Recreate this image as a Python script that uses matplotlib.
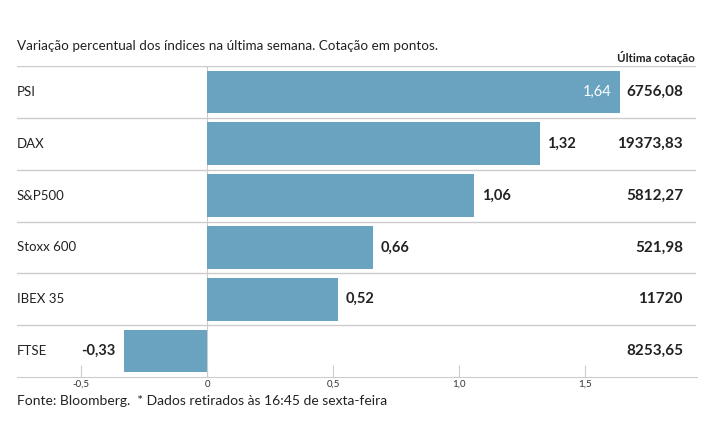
import matplotlib
matplotlib.use("Agg")
import matplotlib.pyplot as plt

# dados
indices = ["PSI", "DAX", "S&P500", "Stoxx 600", "IBEX 35", "FTSE"]
variacao = [1.64, 1.32, 1.06, 0.66, 0.52, -0.33]
cotacao = ["6756,08", "19373,83", "5812,27", "521,98", "11720", "8253,65"]
ticks = [-0.5, 0, 0.5, 1.0, 1.5]
tick_labels = ["-0,5", "0", "0,5", "1,0", "1,5"]

cor = "#6aa3bf"
cinza = "#cccccc"
texto = "#222222"
plt.rcParams["font.family"] = ["Lato", "DejaVu Sans"]

W, H = 715, 445
fig = plt.figure(figsize=(W / 100, H / 100), dpi=100)
ax = fig.add_axes([17 / W, (H - 377) / H, 680 / W, 311 / H])

y = list(range(len(indices)))
ax.barh(y, variacao, height=0.82, color=cor, zorder=2)
ax.set_xlim(-0.754, 1.944)
ax.set_ylim(5.5, -0.5)

# separadores
for i in range(len(indices)):
    ax.axhline(i - 0.5, xmax=0.997, color=cinza, lw=1, zorder=1)
ax.axvline(0, color=cinza, lw=0.8, zorder=1)

for s in ["top", "right", "left"]:
    ax.spines[s].set_visible(False)
ax.spines["bottom"].set_color(cinza)
ax.set_yticks([])
ax.set_xticks(ticks)
ax.set_xticklabels(tick_labels)
ax.tick_params(axis="x", direction="in", length=9, color=cinza, labelsize=7,
               labelcolor="#333333", pad=2)

for i, (nome, v, c) in enumerate(zip(indices, variacao, cotacao)):
    lab = f"{v:.2f}".replace(".", ",")
    ax.text(0.0, i, nome, transform=ax.get_yaxis_transform(), ha="left",
            va="center", fontsize=9.5, color=texto)
    if v >= 1.5:
        ax.text(v - 0.035, i, lab, ha="right", va="center", fontsize=10.5, color="white")
    elif v < 0:
        ax.text(v - 0.035, i, lab, ha="right", va="center", fontsize=10.5,
                color=texto, fontweight="bold")
    else:
        ax.text(v + 0.03, i, lab, ha="left", va="center", fontsize=10.5,
                color=texto, fontweight="bold")
    ax.text((683 - 17) / 680, i, c, transform=ax.get_yaxis_transform(),
            ha="right", va="center", fontsize=11, color=texto, fontweight="bold")

fig.text(17 / W, 1 - 46 / H, "Variação percentual dos índices na última semana. Cotação em pontos.",
         ha="left", va="center", fontsize=9.7, color=texto)
fig.text(695 / W, 1 - 58 / H, "Última cotação", ha="right", va="center",
         fontsize=8.3, color=texto, fontweight="bold")
fig.text(17 / W, 1 - 401 / H, "Fonte: Bloomberg.  * Dados retirados às 16:45 de sexta-feira",
         ha="left", va="center", fontsize=10, color=texto)

fig.savefig("out.png", dpi=100)
